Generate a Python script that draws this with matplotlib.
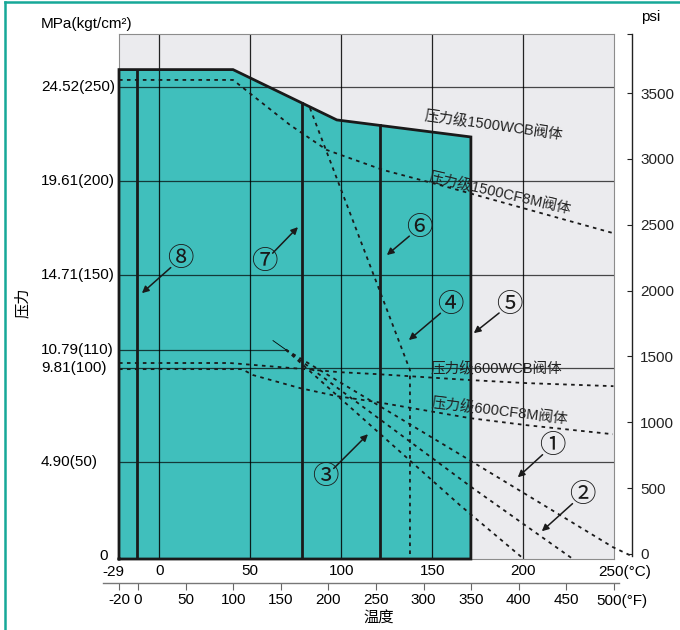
import matplotlib.pyplot as plt
from matplotlib.lines import Line2D
import numpy as np

plt.rcParams['font.family'] = ['Liberation Sans', 'Noto Sans CJK SC', 'DejaVu Sans']
plt.rcParams['font.size'] = 11

TEAL = '#40bfbc'
GRAY_BG = '#ebebee'
INK = '#1a1a1a'
FRAME = '#17a898'

# axis ranges (temperature in °C, pressure in MPa, right axis in psi, lower axis in °F)
t_lo, t_hi = -22.2, 250
p_lo, p_hi = -0.15, 27.28
psi_lo, psi_hi = -38, 3948
f_lo, f_hi = -12.5, 486

# pressure grid / labels
press_vals = [0, 4.90, 9.81, 10.79, 14.71, 19.61, 24.52]
press_labels = ['0', '4.90(50)', '9.81(100)', '10.79(110)', '14.71(150)', '19.61(200)', '24.52(250)']
temp_grid = [0, 50, 100, 150, 200]
temp_labels = ['0', '50', '100', '150', '200']
psi_ticks = [0, 500, 1000, 1500, 2000, 2500, 3000, 3500]
f_ticks = [-20, 0, 50, 100, 150, 200, 250, 300, 350, 400, 450, 500]

# shaded allowable region: upper envelope and heavy dividers
env_t = [-22.2, 40.5, 97.6, 171.3]
env_p = [25.42, 25.42, 22.79, 21.90]
divider_t = [-12.5, 78.6, 121.4]

# rating curves (dashed)
wcb1500_t = [-22.2, 40.5, 71.8, 92.1, 122.9, 158.1, 249.4]
wcb1500_p = [24.88, 24.88, 22.53, 21.22, 20.18, 19.29, 16.88]
steep_t = [82.8, 137.8, 137.8]
steep_p = [23.41, 9.72, p_lo]
wcb600_t = [-22.2, 38.8, 80.0, 99.3, 119.6, 170.8, 201.9, 249.7]
wcb600_p = [10.09, 10.09, 9.77, 9.61, 9.51, 9.20, 9.04, 8.88]
cf8m600_t = [-22.2, 45.4, 51.5, 77.3, 97.6, 119.6, 170.8, 202.1, 249.4]
cf8m600_p = [9.77, 9.77, 9.46, 8.78, 8.36, 8.05, 7.21, 6.84, 6.37]
fan_t0, fan_p0 = 69.5, 10.79
fan1_t = [fan_t0, 172.4, 249.4, 258.7]
fan1_p = [fan_p0, 4.91, 0.47, 0.05]
fan2_t = [fan_t0, 172.4, 226.8]
fan2_p = [fan_p0, 3.55, -0.11]
fan3_t = [fan_t0, 165.3, 199.9]
fan3_p = [fan_p0, 2.66, -0.11]

# curve captions: text, position, rotation
captions = ['压力级1500WCB阀体', '压力级1500CF8M阀体', '压力级600WCB阀体', '压力级600CF8M阀体']
caption_t = [184.0, 187.3, 185.6, 186.9]
caption_p = [22.47, 18.96, 9.77, 7.57]
caption_rot = [-8, -13, 0, -7]

# numbered callouts: label position and arrow tip
marks = ['①', '②', '③', '④', '⑤', '⑥', '⑦', '⑧']
mark_t = [215.8, 232.3, 91.0, 159.8, 192.2, 142.7, 57.5, 11.4]
mark_p = [5.74, 3.18, 4.12, 13.11, 13.11, 17.14, 15.36, 15.51]
tip_t = [197.1, 210.3, 114.7, 137.2, 172.9, 125.1, 76.2, -9.6]
tip_p = [4.12, 1.30, 6.37, 11.29, 11.65, 15.73, 17.19, 13.74]

W, H = 680, 630
fig = plt.figure(figsize=(W / 100, H / 100), dpi=100)
ax = fig.add_axes([119 / W, 1 - 559 / H, 495 / W, 525 / H])
ax.set_xlim(t_lo, t_hi)
ax.set_ylim(p_lo, p_hi)
ax.set_facecolor(GRAY_BG)

# shaded region
poly_t = [t_lo] + env_t + [env_t[-1]]
poly_p = [p_lo] + env_p + [p_lo]
ax.fill(poly_t, poly_p, color=TEAL, lw=0, zorder=1)

# grid
for t in temp_grid:
    ax.axvline(t, color='black', alpha=0.85, lw=0.9, zorder=2)
for p in press_vals[1:]:
    if p == 10.79:
        continue
    ax.axhline(p, color='black', alpha=0.7, lw=0.9, zorder=2)
ax.plot([t_lo, fan_t0], [10.79, 10.79], color='black', alpha=0.7, lw=0.9, zorder=2)
ax.plot([fan_t0, 62.5], [10.79, 11.26], color='black', lw=0.6, zorder=2)

# heavy outline and dividers
ax.plot(poly_t + [poly_t[0]], poly_p + [poly_p[0]], color=INK, lw=2,
        zorder=4, clip_on=False, solid_joinstyle='miter')
for t in divider_t:
    ax.plot([t, t], [p_lo, np.interp(t, env_t, env_p)], color=INK, lw=2, zorder=4)

# dashed rating curves
dash = dict(color=INK, lw=1.3, ls=(0, (2, 2.4)), zorder=5, clip_on=False)
for ts, ps in [(wcb1500_t, wcb1500_p), (steep_t, steep_p), (wcb600_t, wcb600_p),
               (cf8m600_t, cf8m600_p), (fan1_t, fan1_p), (fan2_t, fan2_p),
               (fan3_t, fan3_p)]:
    ax.plot(ts, ps, **dash)

for txt, t, p, r in zip(captions, caption_t, caption_p, caption_rot):
    ax.text(t, p, txt, rotation=r, ha='center', va='center', fontsize=10.5,
            color='#222222', zorder=6, rotation_mode='anchor')

# arrows start just outside the circled digit
for m, t, p, tt, tp in zip(marks, mark_t, mark_p, tip_t, tip_p):
    ax.annotate(m, xy=(tt, tp), xytext=(t, p), ha='center', va='center',
                fontsize=19, color=INK, zorder=7,
                arrowprops=dict(arrowstyle='-|>', color=INK, lw=1.1,
                                mutation_scale=10, patchA=None,
                                shrinkA=9, shrinkB=0))

# frame of plotting area
for s in ax.spines.values():
    s.set_color('#8c8c8c')
    s.set_linewidth(0.8)

# °C axis
ax.set_xticks(temp_grid)
ax.set_xticklabels(temp_labels)
ax.set_yticks([])
ax.tick_params(axis='x', length=0, pad=3.5)
ax.annotate('-29', xy=(0, 0), xycoords='axes fraction', xytext=(-6, -13),
            textcoords='offset pixels', ha='center', va='center')
ax.annotate('250(°C)', xy=(t_hi, 0), xycoords=ax.get_xaxis_transform(),
            xytext=(-16, -13), textcoords='offset pixels', ha='left', va='center')

# MPa labels on the left
ytr = ax.get_yaxis_transform()
for p, lab in zip(press_vals, press_labels):
    if lab == '0':
        ax.text(-0.022, p, lab, transform=ytr, ha='right', va='center')
    else:
        ax.text(-0.1576, p, lab, transform=ytr, ha='left', va='center')

# psi axis on the right
axr = ax.twinx()
axr.set_ylim(psi_lo, psi_hi)
for side in ['left', 'top', 'bottom']:
    axr.spines[side].set_visible(False)
axr.spines['right'].set_position(('outward', 13))
axr.spines['right'].set_bounds(-15, psi_hi)
axr.spines['right'].set_color('#222222')
axr.spines['right'].set_linewidth(1)
axr.set_yticks(psi_ticks)
axr.set_yticks([psi_hi], minor=True)
axr.tick_params(axis='y', which='both', direction='in', length=3.6, width=0.8,
                pad=5.8, colors='#222222', labelcolor='#222222')
axr.tick_params(axis='y', which='minor', labelright=False)

# °F axis below
axf = fig.add_axes([119 / W, 1 - 583 / H, 495 / W, 0.0005])
axf.patch.set_visible(False)
for side in ['left', 'top', 'right']:
    axf.spines[side].set_visible(False)
axf.spines['bottom'].set_color('#777777')
axf.spines['bottom'].set_linewidth(1)
axf.set_xlim(f_lo, f_hi)
axf.spines['bottom'].set_bounds(-36.6, 505.3)
axf.set_yticks([])
axf.set_xticks(f_ticks)
axf.set_xticklabels([str(f) for f in f_ticks[:-1]] + [''])
axf.tick_params(axis='x', direction='out', length=5, width=0.8, color='#666666', pad=2)
axf.annotate('500(°F)', xy=(f_ticks[-1], 0), xycoords=axf.get_xaxis_transform(),
             xytext=(-18, -18), textcoords='offset pixels', ha='left', va='center',
             annotation_clip=False)

# axis titles
fig.text(41 / W, 1 - 24 / H, 'MPa(kgt/cm²)', ha='left', va='center')
fig.text(651 / W, 1 - 17 / H, 'psi', ha='center', va='center')
fig.text(379 / W, 1 - 618 / H, '温度', ha='center', va='center')
fig.text(23 / W, 1 - 303 / H, '压力', ha='center', va='center', rotation=90)

# outer border
fig.add_artist(Line2D([5 / W, 5 / W], [0, 1 - 2 / H], transform=fig.transFigure,
                      color=FRAME, lw=1.8))
fig.add_artist(Line2D([5 / W, 1], [1 - 2 / H, 1 - 2 / H], transform=fig.transFigure,
                      color=FRAME, lw=1.8))

fig.savefig('out.png', dpi=100)
